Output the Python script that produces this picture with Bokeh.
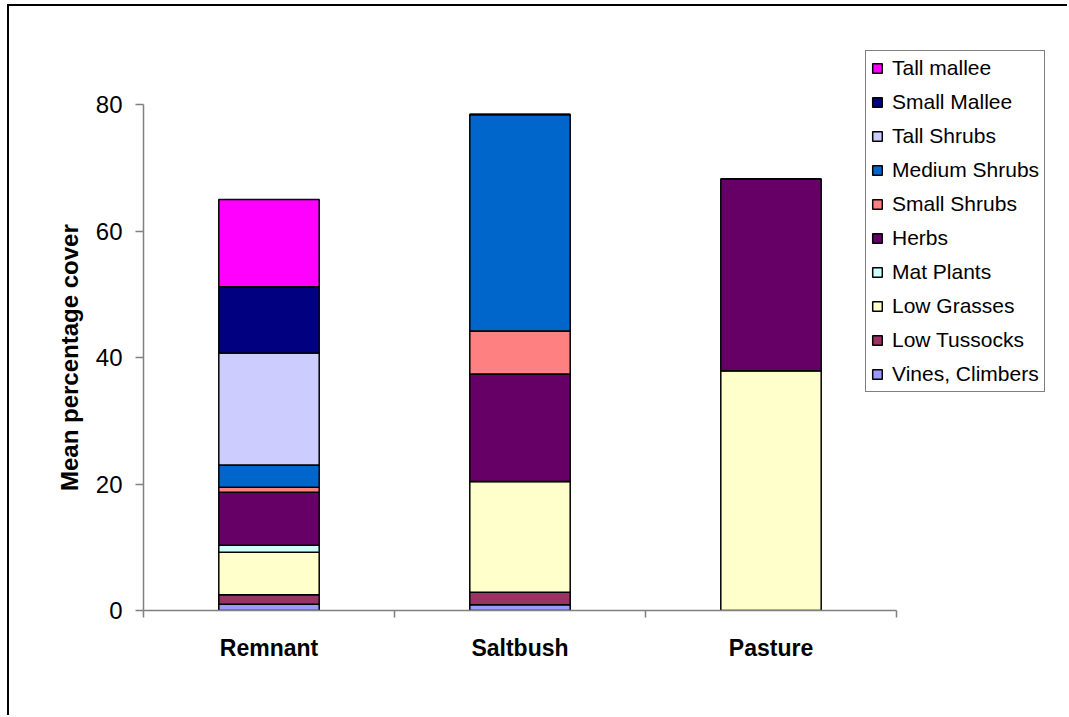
from bokeh.plotting import figure
from bokeh.models import ColumnDataSource, Range1d, FixedTicker, Legend, LegendItem, Title
from bokeh.embed import file_html
from bokeh.resources import INLINE

# Mean percentage cover of each life form, by site
sites = ["Remnant", "Saltbush", "Pasture"]
life_forms = ["Vines, Climbers", "Low Tussocks", "Low Grasses", "Mat Plants", "Herbs",
              "Small Shrubs", "Medium Shrubs", "Tall Shrubs", "Small Mallee", "Tall mallee"]
vines_climbers = [1.0, 0.9, 0.0]
low_tussocks = [1.5, 2.0, 0.0]
low_grasses = [6.7, 17.5, 37.9]
mat_plants = [1.1, 0.0, 0.0]
herbs = [8.4, 17.0, 30.3]
small_shrubs = [0.8, 6.8, 0.0]
medium_shrubs = [3.5, 34.2, 0.0]
tall_shrubs = [17.7, 0.0, 0.0]
small_mallee = [10.5, 0.0, 0.0]
tall_mallee = [13.8, 0.0, 0.0]
y_ticks = [0, 20, 40, 60, 80]

colors = ["#9999FF", "#993366", "#FFFFCC", "#CCFFFF", "#660066",
          "#FF8080", "#0066CC", "#CCCCFF", "#000080", "#FF00FF"]

series = [vines_climbers, low_tussocks, low_grasses, mat_plants, herbs,
          small_shrubs, medium_shrubs, tall_shrubs, small_mallee, tall_mallee]
keys = ["s%d" % i for i in range(len(life_forms))]
x_pos = [i + 0.5 for i in range(len(sites))]
data = {"x": x_pos}
for k, vals in zip(keys, series):
    data[k] = vals
source = ColumnDataSource(data)

FONT = "Liberation Sans"

# Page layout (pixels). The canvas sits inside a bordered box starting at (9, 6).
OX, OY = 9, 6
W, H = 1069 - OX, 717 - OY
AXIS_LEFT, AXIS_RIGHT = 143, 896      # x extent of the axis line
AXIS_TOP, AXIS_BOTTOM = 104, 610      # y extent of the axis line
FRAME_TOP, FRAME_RIGHT = 40, 1060     # frame is larger so the legend can overlap it

n = len(sites)
px_per_x = (AXIS_RIGHT - AXIS_LEFT) / n
px_per_y = (AXIS_BOTTOM - AXIS_TOP) / (y_ticks[-1] - y_ticks[0])
x_end = (FRAME_RIGHT - AXIS_LEFT) / px_per_x
y_end = y_ticks[0] + (AXIS_BOTTOM - FRAME_TOP) / px_per_y

p = figure(width=W, height=H, output_backend="svg", toolbar_location=None,
           x_range=Range1d(0, x_end), y_range=Range1d(y_ticks[0], y_end),
           min_border_left=AXIS_LEFT - OX, min_border_right=OX + W - FRAME_RIGHT,
           min_border_top=FRAME_TOP - OY, min_border_bottom=OY + H - AXIS_BOTTOM)
p.styles = {"margin-left": "7px", "margin-top": "4px",
            "border-left": "2px solid black", "border-top": "2px solid black"}
p.background_fill_color = "white"
p.border_fill_color = "white"
p.outline_line_color = None
p.xgrid.grid_line_color = None
p.ygrid.grid_line_color = None

renderers = p.vbar_stack(keys, x="x", width=0.4, source=source, fill_color=colors,
                         line_color="black", line_width=1.5)

# y axis
ya = p.yaxis[0]
ya.bounds = (y_ticks[0], y_ticks[-1])
ya.ticker = FixedTicker(ticks=y_ticks)
ya.major_label_text_font = FONT
ya.major_label_text_font_size = "24px"
ya.major_label_text_color = "black"
ya.major_label_standoff = 13
ya.major_tick_out = 8
ya.major_tick_in = 0
ya.minor_tick_line_color = None
ya.axis_line_color = "#808080"
ya.axis_line_width = 1.5
ya.major_tick_line_color = "#808080"
ya.major_tick_line_width = 1.5

# y axis title, centred on the 0-80 axis line rather than the whole frame
y_title = Title(text="Mean percentage cover", align="left",
                offset=(AXIS_BOTTOM - AXIS_TOP - 267) / 2, standoff=20,
                text_font=FONT, text_font_style="bold", text_font_size="24px",
                text_color="black")
p.add_layout(y_title, "left")

# x axis: site names centred under the bars, tick marks between sites
xa = p.xaxis[0]
xa.bounds = (0, n)
xa.ticker = FixedTicker(ticks=x_pos, minor_ticks=list(range(n + 1)))
xa.major_label_overrides = {x: s for x, s in zip(x_pos, sites)}
xa.major_label_text_font = FONT
xa.major_label_text_font_style = "bold"
xa.major_label_text_font_size = "23px"
xa.major_label_text_color = "black"
xa.major_label_standoff = 17
xa.major_tick_line_color = None
xa.major_tick_out = 0
xa.major_tick_in = 0
xa.minor_tick_out = 7
xa.minor_tick_in = 0
xa.minor_tick_line_color = "#808080"
xa.minor_tick_line_width = 1.5
xa.axis_line_color = "#808080"
xa.axis_line_width = 1.5

# legend, top entry = top of the stack
items = [LegendItem(label=lab, renderers=[r])
         for lab, r in reversed(list(zip(life_forms, renderers)))]
legend = Legend(items=items, location=(865 - AXIS_LEFT, AXIS_BOTTOM - 392),
                orientation="vertical",
                label_text_font=FONT, label_text_font_size="21px",
                label_text_color="black", label_standoff=9, label_height=22,
                glyph_width=12, glyph_height=12, spacing=10, padding=5, margin=0,
                border_line_color="black", border_line_width=1,
                background_fill_color="white", background_fill_alpha=1.0)
p.add_layout(legend, "center")

open("out.html", "w").write(file_html(p, INLINE))
